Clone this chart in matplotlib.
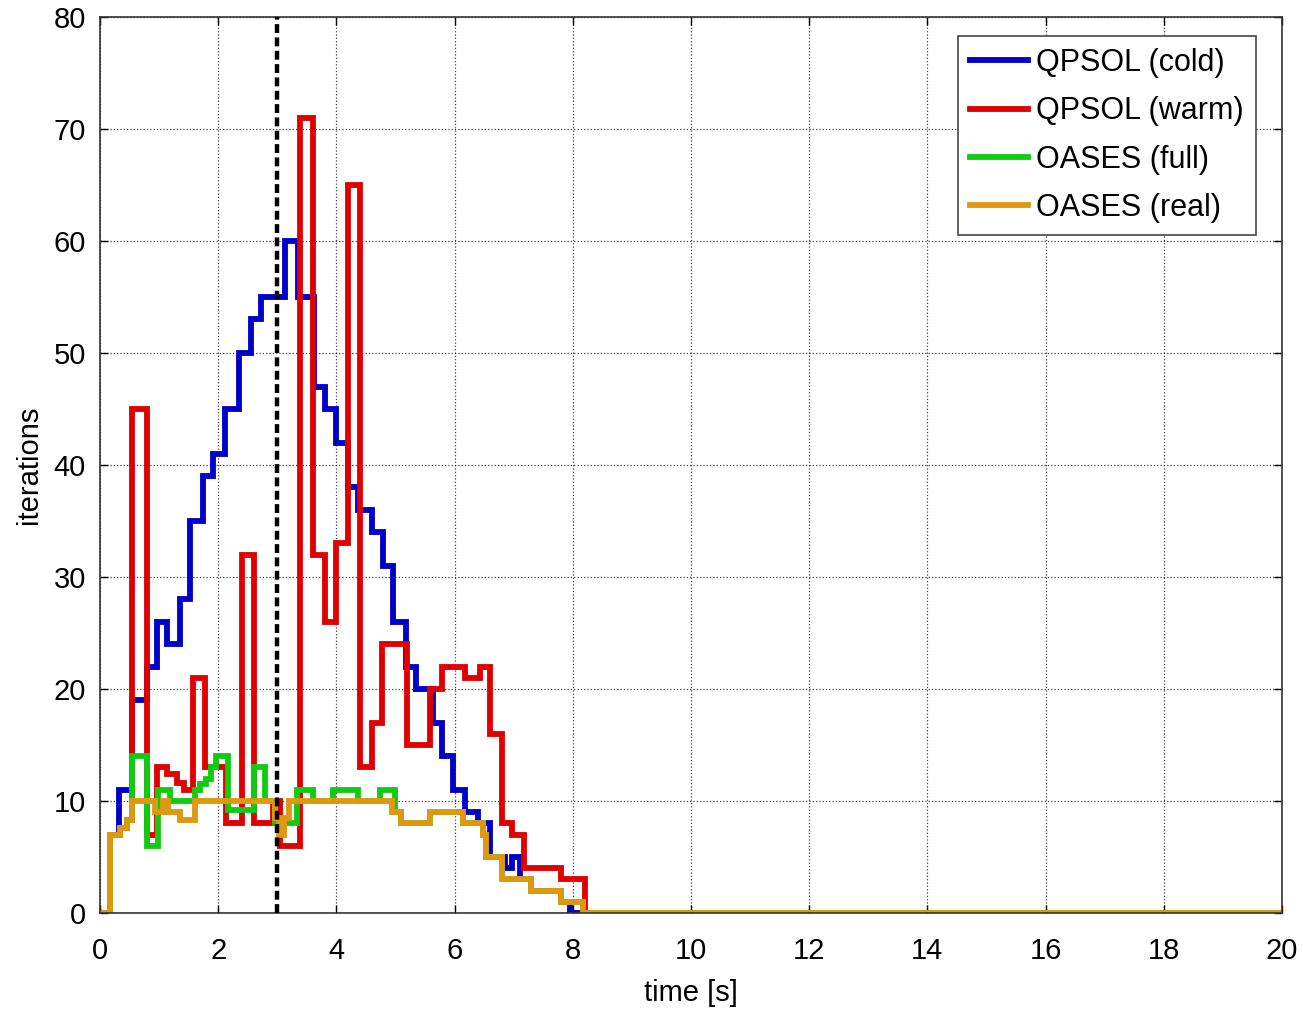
import matplotlib
matplotlib.use("Agg")
import matplotlib.pyplot as plt

plt.rcParams['font.family'] = ['Liberation Sans', 'DejaVu Sans']

# step data (time [s], iterations), held until next breakpoint
t_cold = [0, 0.17, 0.32, 0.55, 0.79, 0.96, 1.13, 1.35, 1.53, 1.75, 1.92, 2.12, 2.35,
          2.55, 2.72, 3.13, 3.35, 3.62, 3.8, 4.0, 4.2, 4.37, 4.6, 4.79, 4.96, 5.18,
          5.35, 5.64, 5.78, 5.98, 6.17, 6.4, 6.6, 6.85, 6.97, 7.1, 7.3, 7.8, 7.95, 20]
v_cold = [0, 7, 11, 19, 22, 26, 24, 28, 35, 39, 41, 45, 50,
          53, 55, 60, 55, 47, 45, 42, 38, 36, 34, 31, 26, 22,
          20, 17, 14, 11, 9, 8, 5, 4, 5, 3, 2, 1, 0, 0]

t_warm = [0, 0.17, 0.34, 0.45, 0.55, 0.79, 0.96, 1.13, 1.3, 1.43, 1.57, 1.78, 2.14,
          2.4, 2.61, 2.93, 3.05, 3.38, 3.6, 3.81, 4.0, 4.2, 4.4, 4.6, 4.78, 5.2,
          5.58, 5.78, 6.17, 6.43, 6.6, 6.8, 6.97, 7.17, 7.8, 8.2, 20]
v_warm = [0, 7, 7.6, 8.3, 45, 7, 13, 12.4, 11.6, 11, 21, 13, 8,
          32, 8, 10, 6, 71, 32, 26, 33, 65, 13, 17, 24, 15,
          20, 22, 21, 22, 16, 8, 7, 4, 3, 0, 0]

t_full = [0, 0.17, 0.34, 0.45, 0.55, 0.79, 0.99, 1.18, 1.61, 1.69, 1.8, 1.88, 1.97,
          2.17, 2.6, 2.8, 2.96, 3.33, 3.6, 3.94, 4.37, 4.74, 4.99, 5.1, 5.58, 6.15,
          6.49, 6.54, 6.8, 7.3, 7.81, 8.18, 20]
v_full = [0, 7, 7.6, 8.3, 14, 6, 11, 10, 11, 11.5, 12, 13, 14,
          9.2, 13, 10, 8, 11, 10, 11, 10, 11, 9, 8, 9, 8,
          7, 5, 3, 2, 1, 0, 0]

t_real = [0, 0.17, 0.34, 0.45, 0.54, 0.93, 1.07, 1.15, 1.35, 1.61, 2.96, 3.03, 3.12,
          3.2, 4.94, 5.1, 5.58, 6.15, 6.49, 6.54, 6.8, 7.3, 7.81, 8.18, 20]
v_real = [0, 7, 7.6, 8.3, 10, 9, 10, 9, 8.3, 10, 8.5, 7, 8.5,
          10, 9, 8, 9, 8, 7, 5, 3, 2, 1, 0, 0]

t_switch = 3.0

series = [
    (t_cold, v_cold, '#0000c8', 'QPSOL (cold)'),
    (t_warm, v_warm, '#e00000', 'QPSOL (warm)'),
    (t_full, v_full, '#10cc10', 'OASES (full)'),
    (t_real, v_real, '#dd9912', 'OASES (real)'),
]

fig = plt.figure(figsize=(13.03, 10.09), dpi=100)
ax = fig.add_axes([0.0767, 0.0951, 0.9071, 0.888])

for t, v, c, lab in series:
    ax.plot(t, v, drawstyle='steps-post', color=c, lw=4.2, label=lab,
            solid_joinstyle='miter')

ax.plot([t_switch, t_switch], [0, 80], color='k', lw=3.2,
        linestyle=(0, (2.0, 1.0)), zorder=5)

ax.set_xlim(0, 20)
ax.set_ylim(0, 80)
ax.set_xticks(range(0, 21, 2))
ax.set_yticks(range(0, 81, 10))
ax.grid(True, linestyle=':', color='k', linewidth=0.9, alpha=0.75)
ax.tick_params(direction='in', length=6, width=1, top=True, right=True,
               labelsize=21)
ax.tick_params(axis='x', pad=17)
ax.tick_params(axis='y', pad=10)
for s in ax.spines.values():
    s.set_color('#333333')
    s.set_linewidth(1.2)

ax.set_xlabel('time [s]', fontsize=21, labelpad=10)
ax.set_ylabel('iterations', fontsize=21, labelpad=8)

leg = ax.legend(loc='upper right', bbox_to_anchor=(0.978, 0.979), fontsize=22,
                handlelength=1.9, handletextpad=0.25, labelspacing=0.6,
                borderpad=0.4, borderaxespad=0, fancybox=False, framealpha=1)
leg.get_frame().set_edgecolor('#444444')
leg.get_frame().set_linewidth(1.2)

fig.savefig('out.png', dpi=100)
